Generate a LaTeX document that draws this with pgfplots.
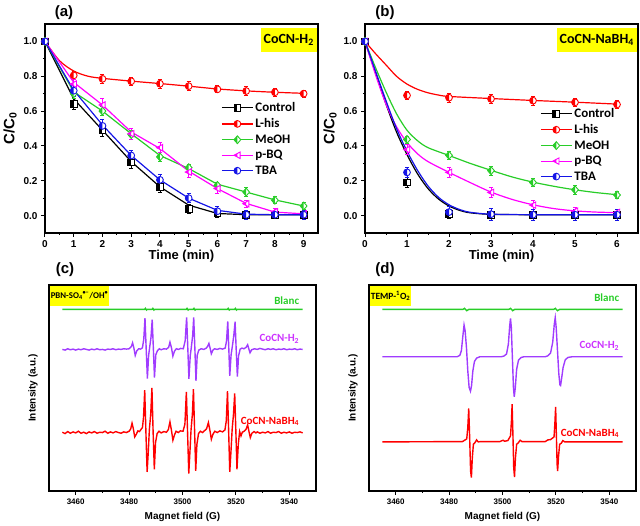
\documentclass[border=0pt]{standalone}
\usepackage{pgfplots}
\pgfplotsset{compat=1.18}
\usepackage{fontspec}
\setmainfont{Liberation Sans}
\newfontfamily\cali{Carlito}
\definecolor{cgreen}{RGB}{40,205,40}
\definecolor{cmag}{RGB}{255,0,255}
\definecolor{cblue}{RGB}{20,20,230}
\definecolor{cpurp}{RGB}{160,60,255}
\definecolor{cpurpt}{RGB}{204,51,255}
\definecolor{cred}{RGB}{255,0,0}
\definecolor{cyel}{RGB}{255,255,0}
\makeatletter
\pgfdeclareplotmark{hcirc}{%
  \pgfscope\pgfsetfillcolor{white}%
  \pgfpathcircle{\pgfpointorigin}{\pgfplotmarksize}\pgfusepathqfill\endpgfscope
  \pgfpathmoveto{\pgfqpoint{0pt}{\pgfplotmarksize}}%
  \pgfpatharc{90}{270}{\pgfplotmarksize}%
  \pgfpathclose\pgfusepathqfill
  \pgfpathcircle{\pgfpointorigin}{\pgfplotmarksize}\pgfusepathqstroke}
\pgfdeclareplotmark{hsq}{%
  \pgfscope\pgfsetfillcolor{white}%
  \pgfpathrectanglecorners{\pgfqpoint{-\pgfplotmarksize}{-\pgfplotmarksize}}{\pgfqpoint{\pgfplotmarksize}{\pgfplotmarksize}}\pgfusepathqfill\endpgfscope
  \pgfpathrectanglecorners{\pgfqpoint{-\pgfplotmarksize}{-\pgfplotmarksize}}{\pgfqpoint{0pt}{\pgfplotmarksize}}\pgfusepathqfill
  \pgfpathrectanglecorners{\pgfqpoint{-\pgfplotmarksize}{-\pgfplotmarksize}}{\pgfqpoint{\pgfplotmarksize}{\pgfplotmarksize}}\pgfusepathqstroke}
\pgfdeclareplotmark{hdia}{%
  \pgfscope\pgfsetfillcolor{white}%
  \pgfpathmoveto{\pgfqpoint{0pt}{1.15\pgfplotmarksize}}\pgfpathlineto{\pgfqpoint{-\pgfplotmarksize}{0pt}}%
  \pgfpathlineto{\pgfqpoint{0pt}{-1.15\pgfplotmarksize}}\pgfpathlineto{\pgfqpoint{\pgfplotmarksize}{0pt}}\pgfpathclose\pgfusepathqfill\endpgfscope
  \pgfpathmoveto{\pgfqpoint{0pt}{1.15\pgfplotmarksize}}\pgfpathlineto{\pgfqpoint{-\pgfplotmarksize}{0pt}}%
  \pgfpathlineto{\pgfqpoint{0pt}{-1.15\pgfplotmarksize}}\pgfpathclose\pgfusepathqfill
  \pgfpathmoveto{\pgfqpoint{0pt}{1.15\pgfplotmarksize}}\pgfpathlineto{\pgfqpoint{-\pgfplotmarksize}{0pt}}%
  \pgfpathlineto{\pgfqpoint{0pt}{-1.15\pgfplotmarksize}}\pgfpathlineto{\pgfqpoint{\pgfplotmarksize}{0pt}}\pgfpathclose\pgfusepathqstroke}
\pgfdeclareplotmark{htri}{%
  \pgfscope\pgfsetfillcolor{white}%
  \pgfpathmoveto{\pgfqpoint{-\pgfplotmarksize}{0pt}}\pgfpathlineto{\pgfqpoint{0.8\pgfplotmarksize}{0.95\pgfplotmarksize}}%
  \pgfpathlineto{\pgfqpoint{0.8\pgfplotmarksize}{-0.95\pgfplotmarksize}}\pgfpathclose\pgfusepathqfill\endpgfscope
  \pgfpathmoveto{\pgfqpoint{-\pgfplotmarksize}{0pt}}\pgfpathlineto{\pgfqpoint{0pt}{0.53\pgfplotmarksize}}%
  \pgfpathlineto{\pgfqpoint{0pt}{-0.53\pgfplotmarksize}}\pgfpathclose\pgfusepathqfill
  \pgfpathmoveto{\pgfqpoint{-\pgfplotmarksize}{0pt}}\pgfpathlineto{\pgfqpoint{0.8\pgfplotmarksize}{0.95\pgfplotmarksize}}%
  \pgfpathlineto{\pgfqpoint{0.8\pgfplotmarksize}{-0.95\pgfplotmarksize}}\pgfpathclose\pgfusepathqstroke}
\makeatother
\tikzset{slab/.style={anchor=east, font=\cali\bfseries\fontsize{11}{13}\selectfont}}
\pgfplotsset{
  kin/.style={
    scale only axis, width=273pt, height=209pt, clip=false,
    ymin=-0.1, ymax=1.1, ytick={0,0.2,...,1.0}, minor y tick num=1,
    minor x tick num=1, xtick pos=bottom, ytick pos=left,
    tick align=outside, major tick length=4pt, minor tick length=2pt,
    axis line style={line width=1.1pt}, every tick/.style={line width=1pt, black},
    /pgf/number format/assume math mode=true,
    ticklabel style={font=\bfseries\fontsize{10}{12}\selectfont},
    yticklabel style={/pgf/number format/.cd, fixed, fixed zerofill, precision=1},
    xlabel={Time (min)}, ylabel={C/C\textsubscript{0}},
    xlabel style={font=\bfseries\fontsize{13}{15}\selectfont, at={(axis description cs:0.5,-0.112)}, anchor=center},
    ylabel style={font=\bfseries\fontsize{15}{17}\selectfont, at={(axis description cs:-0.128,0.5)}, anchor=center},
    legend style={draw=none, fill=none, font=\cali\bfseries\fontsize{13}{15}\selectfont, row sep=1.5pt, inner sep=0pt},
    legend cell align=left,
    legend image code/.code={\draw[mark repeat=2,mark phase=2,#1] plot coordinates {(0pt,0pt)(15.5pt,0pt)(31pt,0pt)};},
  },
  dat/.style={only marks, mark size=3.4pt, mark options={line width=0.9pt}, forget plot,
    error bars/y dir=both, error bars/y explicit, error bars/error bar style={line width=0.8pt},
    error bars/error mark options={rotate=90, mark size=2pt, line width=0.8pt}},
  fit/.style={no marks, line width=1.2pt, forget plot},
  epr/.style={
    scale only axis, width=267pt, height=206pt, clip=false,
    xmin=3450, xmax=3550, ymin=0, ymax=61.7, ytick=\empty,
    xtick={3460,3480,...,3540}, minor x tick num=1, xtick pos=bottom,
    tick align=outside, major tick length=4pt, minor tick length=2pt,
    axis line style={line width=1.1pt}, every tick/.style={line width=1pt, black},
    /pgf/number format/assume math mode=true,
    xticklabel style={font=\bfseries\fontsize{8}{10}\selectfont, /pgf/number format/set thousands separator={}},
    xlabel={Magnet field (G)}, ylabel={Intensity (a.u.)},
    xlabel style={font=\bfseries\fontsize{10}{12}\selectfont, at={(axis description cs:0.5,-0.125)}, anchor=center},
    ylabel style={font=\bfseries\fontsize{10}{12}\selectfont, at={(axis description cs:-0.06,0.5)}, anchor=center},
  },
  spec/.style={sharp plot, no marks, line width=1.4pt},
}
\begin{document}
\begin{tikzpicture}
\useasboundingbox (0pt,0pt) rectangle (640pt,526pt);
% ---------------- (a)
\begin{axis}[kin, at={(45pt,293pt)}, anchor=south west, xmin=0, xmax=9.5, xtick={0,...,9},
  legend style={at={(0.645,0.635)}, anchor=north west}]
\addplot[fit, black] coordinates {(0,1)(1,0.67)(2,0.49)(3,0.31)(4,0.165)(5,0.06)(6,0.012)(7,0.005)(8,0.005)(9,0.005)};
\addplot[fit, cred, smooth] coordinates {(0,1)(0.5,0.89)(1,0.83)(1.5,0.80)(2,0.788)(3,0.772)(4,0.758)(5,0.743)(6,0.727)(7,0.716)(8,0.708)(9,0.702)};
\addplot[fit, cgreen] coordinates {(0,1)(1,0.71)(2,0.60)(3,0.47)(4,0.345)(5,0.27)(6,0.18)(7,0.135)(8,0.09)(9,0.055)};
\addplot[fit, cmag] coordinates {(0,1)(1,0.765)(2,0.635)(3,0.48)(4,0.385)(5,0.255)(6,0.155)(7,0.07)(8,0.02)(9,0.01)};
\addplot[fit, cblue] coordinates {(0,1)(1,0.72)(2,0.52)(3,0.345)(4,0.205)(5,0.1)(6,0.03)(7,0.008)(8,0.005)(9,0.005)};
\addplot[dat, black, mark=hsq] coordinates {(0,1)+-(0,0.02) (1,0.64)+-(0,0.03) (2,0.49)+-(0,0.035) (3,0.305)+-(0,0.035) (4,0.165)+-(0,0.03) (5,0.04)+-(0,0.025) (6,0.012)+-(0,0.02) (7,0.005)+-(0,0.02) (8,0.005)+-(0,0.02) (9,0.005)+-(0,0.02)};
\addplot[dat, cred, mark=hcirc] coordinates {(0,1)+-(0,0.02) (1,0.805)+-(0,0.025) (2,0.785)+-(0,0.025) (3,0.771)+-(0,0.025) (4,0.757)+-(0,0.025) (5,0.743)+-(0,0.025) (6,0.725)+-(0,0.02) (7,0.715)+-(0,0.025) (8,0.708)+-(0,0.025) (9,0.70)+-(0,0.02)};
\addplot[dat, cgreen, mark=hdia] coordinates {(0,1)+-(0,0.02) (1,0.70)+-(0,0.025) (2,0.60)+-(0,0.025) (3,0.465)+-(0,0.025) (4,0.337)+-(0,0.025) (5,0.275)+-(0,0.02) (6,0.173)+-(0,0.02) (7,0.135)+-(0,0.025) (8,0.088)+-(0,0.02) (9,0.055)+-(0,0.02)};
\addplot[dat, cmag, mark=htri] coordinates {(0,1)+-(0,0.02) (1,0.755)+-(0,0.025) (2,0.635)+-(0,0.035) (3,0.47)+-(0,0.03) (4,0.39)+-(0,0.03) (5,0.25)+-(0,0.03) (6,0.155)+-(0,0.025) (7,0.068)+-(0,0.02) (8,0.022)+-(0,0.02) (9,0.01)+-(0,0.02)};
\addplot[dat, cblue, mark=hcirc] coordinates {(0,1)+-(0,0.02) (1,0.717)+-(0,0.03) (2,0.515)+-(0,0.035) (3,0.345)+-(0,0.03) (4,0.205)+-(0,0.03) (5,0.10)+-(0,0.025) (6,0.025)+-(0,0.025) (7,0.005)+-(0,0.025) (8,0.005)+-(0,0.02) (9,0.005)+-(0,0.025)};
\addlegendimage{black, line width=1.2pt, mark=hsq, mark size=3.4pt, mark options={line width=0.9pt}}\addlegendentry{Control}
\addlegendimage{cred, line width=1.2pt, mark=hcirc, mark size=3.4pt, mark options={line width=0.9pt}}\addlegendentry{L-his}
\addlegendimage{cgreen, line width=1.2pt, mark=hdia, mark size=3.4pt, mark options={line width=0.9pt}}\addlegendentry{MeOH}
\addlegendimage{cmag, line width=1.2pt, mark=htri, mark size=3.4pt, mark options={line width=0.9pt}}\addlegendentry{p-BQ}
\addlegendimage{cblue, line width=1.2pt, mark=hcirc, mark size=3.4pt, mark options={line width=0.9pt}}\addlegendentry{TBA}
\node[anchor=north east, fill=cyel, inner xsep=3pt, minimum height=24pt, font=\cali\bfseries\fontsize{14}{16}\selectfont] at ([xshift=-1pt,yshift=-4pt]rel axis cs:1,1) {CoCN-H\textsubscript{2}};
\end{axis}
\node[font=\bfseries\fontsize{15}{17}\selectfont] at (64pt,513pt) {(a)};
% ---------------- (b)
\begin{axis}[kin, at={(365pt,293pt)}, anchor=south west, xmin=0, xmax=6.5, xtick={0,...,6},
  legend style={at={(0.641,0.607)}, anchor=north west}]
\addplot[fit, black, smooth] coordinates {(0,1)(0.25,0.82)(0.5,0.64)(0.75,0.48)(1,0.35)(1.25,0.24)(1.5,0.155)(1.75,0.095)(2,0.055)(2.25,0.03)(2.5,0.016)(3,0.007)(4,0.005)(5,0.005)(6,0.005)};
\addplot[fit, cred, smooth] coordinates {(0,1)(0.25,0.93)(0.5,0.865)(0.75,0.80)(1,0.755)(1.25,0.725)(1.5,0.705)(1.75,0.692)(2,0.684)(3,0.672)(4,0.661)(5,0.651)(6,0.64)};
\addplot[fit, cgreen, smooth] coordinates {(0,1)(0.25,0.85)(0.5,0.71)(0.75,0.585)(1,0.49)(1.25,0.43)(1.5,0.39)(2,0.345)(2.5,0.30)(3,0.26)(3.5,0.222)(4,0.192)(4.5,0.168)(5,0.148)(5.5,0.132)(6,0.12)};
\addplot[fit, cmag, smooth] coordinates {(0,1)(0.25,0.81)(0.5,0.64)(0.75,0.51)(1,0.42)(1.25,0.355)(1.5,0.31)(2,0.248)(2.5,0.19)(3,0.135)(3.5,0.093)(4,0.062)(4.5,0.04)(5,0.027)(5.5,0.02)(6,0.017)};
\addplot[fit, cblue, smooth] coordinates {(0,1)(0.25,0.83)(0.5,0.66)(0.75,0.50)(1,0.37)(1.25,0.26)(1.5,0.17)(1.75,0.105)(2,0.062)(2.25,0.035)(2.5,0.019)(3,0.008)(4,0.005)(5,0.005)(6,0.005)};
\addplot[dat, black, mark=hsq] coordinates {(0,1)+-(0,0.02) (1,0.19)+-(0,0.03) (2,0.01)+-(0,0.025) (3,0.005)+-(0,0.02) (4,0.005)+-(0,0.02) (5,0.005)+-(0,0.02) (6,0.005)+-(0,0.02)};
\addplot[dat, cred, mark=hcirc] coordinates {(0,1)+-(0,0.02) (1,0.69)+-(0,0.025) (2,0.677)+-(0,0.025) (3,0.67)+-(0,0.025) (4,0.66)+-(0,0.025) (5,0.65)+-(0,0.025) (6,0.638)+-(0,0.025)};
\addplot[dat, cgreen, mark=hdia] coordinates {(0,1)+-(0,0.02) (1,0.437)+-(0,0.02) (2,0.346)+-(0,0.025) (3,0.258)+-(0,0.025) (4,0.19)+-(0,0.025) (5,0.148)+-(0,0.025) (6,0.118)+-(0,0.02)};
\addplot[dat, cmag, mark=htri] coordinates {(0,1)+-(0,0.02) (1,0.379)+-(0,0.03) (2,0.248)+-(0,0.03) (3,0.133)+-(0,0.03) (4,0.06)+-(0,0.025) (5,0.025)+-(0,0.02) (6,0.018)+-(0,0.02)};
\addplot[dat, cblue, mark=hcirc] coordinates {(0,1)+-(0,0.02) (1,0.248)+-(0,0.03) (2,0.02)+-(0,0.03) (3,0.008)+-(0,0.035) (4,0.005)+-(0,0.03) (5,0.005)+-(0,0.03) (6,0.005)+-(0,0.03)};
\addlegendimage{black, line width=1.2pt, mark=hsq, mark size=3.4pt, mark options={line width=0.9pt}}\addlegendentry{Control}
\addlegendimage{cred, line width=1.2pt, mark=hcirc, mark size=3.4pt, mark options={line width=0.9pt}}\addlegendentry{L-his}
\addlegendimage{cgreen, line width=1.2pt, mark=hdia, mark size=3.4pt, mark options={line width=0.9pt}}\addlegendentry{MeOH}
\addlegendimage{cmag, line width=1.2pt, mark=htri, mark size=3.4pt, mark options={line width=0.9pt}}\addlegendentry{p-BQ}
\addlegendimage{cblue, line width=1.2pt, mark=hcirc, mark size=3.4pt, mark options={line width=0.9pt}}\addlegendentry{TBA}
\node[anchor=north east, fill=cyel, inner xsep=3pt, minimum height=24pt, font=\cali\bfseries\fontsize{14}{16}\selectfont] at ([xshift=-1pt,yshift=-4pt]rel axis cs:1,1) {CoCN-NaBH\textsubscript{4}};
\end{axis}
\node[font=\bfseries\fontsize{15}{17}\selectfont] at (385pt,513pt) {(b)};
% ---------------- (c)
\begin{axis}[epr, at={(49pt,35pt)}, anchor=south west]
\addplot[spec, cgreen] coordinates {(3455,54.4)(3485.8,54.4)(3486.1,54.7)(3486.5,54.2)(3486.8,54.4)(3488.6,54.4)(3488.9,54.7)(3489.3,54.2)(3489.6,54.4)(3501.4,54.4)(3501.7,54.7)(3502.1,54.2)(3502.4,54.4)(3504,54.4)(3504.3,54.7)(3504.7,54.2)(3505,54.4)(3516.8,54.4)(3517.1,54.7)(3517.5,54.2)(3517.8,54.4)(3519.5,54.4)(3519.8,54.7)(3520.2,54.2)(3520.5,54.4)(3545,54.4)};
\addplot[spec, cpurp] coordinates {(3455,42.4)(3456,42.2)(3457,42.6)(3458,42.3)(3459,42.5)(3460,42.2)(3461,42.5)(3462,42.3)(3463,42.6)(3464,42.4)(3465,42.2)(3466,42.5)(3467,42.3)(3468,42.6)(3469,42.3)(3470,42.4)(3471,42.2)(3472,42.5)(3473,42.4)(3474,42.6)(3475,42.3)(3476,42.5)(3477,42.4)(3478,42.6)(3479,42.5)(3480,42.6)
(3480.8,43.2)(3481.3,44.4)(3481.8,42.8)(3482.3,40.6)(3482.9,42.0)(3483.6,42.6)(3484.3,42.5)(3485.0,42.9)(3485.5,45.5)(3485.95,51.8)(3486.4,42.5)(3486.85,33.7)(3487.3,40.5)(3487.7,43.0)(3488.2,46)(3488.65,51.3)(3489.1,42.5)(3489.5,34.0)(3490.0,40.8)(3490.6,42.0)(3491.3,42.6)(3492,42.3)(3493,42.6)(3494,42.5)(3494.8,43.0)(3495.3,44.6)(3495.9,42.8)(3496.4,40.4)(3497.0,41.9)(3497.7,42.6)(3498.5,42.4)(3499.3,42.7)(3500.3,42.6)(3501.0,45.0)(3501.55,52.0)(3502.0,42.5)(3502.4,33.6)(3502.9,40.5)(3503.3,43.0)(3503.8,46.5)(3504.2,52.0)(3504.65,42.3)(3505.05,33.0)(3505.5,40.6)(3506.1,42.2)(3507,42.6)(3508,42.4)(3508.9,42.8)(3509.4,43.3)(3509.9,44.2)(3510.4,42.6)(3510.8,41.1)(3511.4,42.2)(3512,42.6)(3513,42.4)(3514,42.7)(3515,42.5)(3516,42.8)(3516.5,45)(3516.95,50.8)(3517.35,42.5)(3517.7,34.5)(3518.2,40.8)(3518.7,43.5)(3519.2,46.5)(3519.7,50.7)(3520.1,42.5)(3520.55,34.3)(3521.0,40.5)(3521.6,42.5)(3522.3,42.8)(3523.0,42.6)(3523.8,43.0)(3524.4,43.8)(3524.9,42.4)(3525.3,41.4)(3525.9,42.3)(3527,42.6)(3528,42.4)(3529,42.7)(3530,42.5)(3531,42.3)(3532,42.6)(3533,42.4)(3534,42.6)(3535,42.3)(3536,42.5)(3537,42.4)(3538,42.6)(3539,42.3)(3540,42.5)(3541,42.4)(3542,42.6)(3543,42.3)(3544,42.5)(3545,42.4)};
\addplot[spec, cred] coordinates {(3455,17.6)(3456,17.2)(3457,17.8)(3458,17.3)(3459,17.7)(3460,17.4)(3461,17.9)(3462,17.3)(3463,17.6)(3464,17.2)(3465,17.7)(3466,17.4)(3467,17.8)(3468,17.3)(3469,17.6)(3470,17.5)(3471,17.9)(3472,17.3)(3473,17.7)(3474,17.4)(3475,17.8)(3476,17.5)(3477,17.3)(3478,17.7)(3479,17.5)(3480,17.9)
(3480.6,18.6)(3481.1,20.3)(3481.6,18.6)(3482.1,16.2)(3482.7,17.0)(3483.3,18.0)(3483.9,17.8)(3484.5,18.5)(3485.0,19.0)(3485.4,22)(3485.85,30.2)(3486.3,17.5)(3486.75,5.7)(3487.2,12)(3487.6,18.5)(3488.1,23)(3488.55,30.9)(3489.0,17.5)(3489.45,6.5)(3489.9,14.5)(3490.5,17.2)(3491.2,17.9)(3492,17.4)(3493,17.8)(3494,17.6)(3494.7,18.4)(3495.3,20.7)(3495.9,18)(3496.4,15.2)(3497.0,16.8)(3497.6,17.9)(3498.4,17.5)(3499.2,18.0)(3500.2,17.9)(3500.9,20)(3501.45,29.7)(3501.9,17.5)(3502.35,5.2)(3502.8,12)(3503.2,18.3)(3503.7,23)(3504.1,30.5)(3504.55,17.5)(3504.95,6.0)(3505.4,14)(3506.0,17.2)(3506.7,17.9)(3507.5,17.5)(3508.3,18.1)(3509.0,18.6)(3509.7,20.5)(3510.3,18)(3510.8,15.5)(3511.4,17.0)(3512.1,17.9)(3513,17.5)(3514,18.0)(3515,17.7)(3515.9,18.3)(3516.4,21)(3516.85,29.9)(3517.3,17.5)(3517.7,5.7)(3518.2,12.5)(3518.6,18.5)(3519.1,23)(3519.55,29.2)(3520.0,17.5)(3520.4,6.5)(3520.9,14)(3521.4,17.8)(3521.9,16.5)(3522.4,17.6)(3523.1,17.9)(3523.8,18.5)(3524.4,19.8)(3524.9,17.8)(3525.4,16.0)(3526.0,17.3)(3526.8,17.8)(3527.5,17.4)(3528,17.7)(3529,17.3)(3530,17.6)(3531,17.4)(3532,17.8)(3533,17.3)(3534,17.6)(3535,17.5)(3536,17.8)(3537,17.3)(3538,17.6)(3539,17.4)(3540,17.7)(3541,17.3)(3542,17.6)(3543,17.5)(3544,17.7)(3545,17.4)};
\node[slab, text=cgreen] at (axis cs:3545,57.0) {Blanc};
\node[slab, text=cpurpt] at (axis cs:3545,45.6) {CoCN-H\textsubscript{2}};
\node[slab, text=cred] at (axis cs:3545,20.8) {CoCN-NaBH\textsubscript{4}};
\node[anchor=north west, fill=cyel, inner xsep=1pt, minimum height=20pt, font=\cali\bfseries\fontsize{8.8}{10}\selectfont] at ([xshift=0.6pt,yshift=-0.6pt]rel axis cs:0,1) {PBN-SO\textsubscript{4}\textsuperscript{•−}/OH\textsuperscript{•}};
\end{axis}
\node[font=\bfseries\fontsize{15}{17}\selectfont] at (65pt,256pt) {(c)};
% ---------------- (d)
\begin{axis}[epr, at={(369pt,35pt)}, anchor=south west]
\addplot[spec, cgreen] coordinates {(3455,54.4)(3485.2,54.4)(3485.8,54.7)(3486.6,54.0)(3487.4,54.4)(3502.4,54.4)(3503,54.7)(3503.8,54.0)(3504.6,54.4)(3519.2,54.4)(3519.8,54.7)(3520.6,54.0)(3521.4,54.4)(3545,54.4)};
\addplot[spec, cpurp] coordinates {(3455,40.2)(3483,40.2)(3484,40.6)(3484.6,42)(3485.1,46)(3485.6,49.7)(3486.0,48)(3486.5,43)(3487,36)(3487.5,31)(3488,29.9)(3488.4,31.5)(3488.9,36)(3489.5,38.8)(3490.3,39.8)(3491.5,40.2)(3499.5,40.2)(3500.5,40.4)(3501.5,41.0)(3502.2,44)(3502.7,49.5)(3503.0,51.7)(3503.3,49)(3503.7,40)(3504.1,31)(3504.4,28.2)(3504.8,31)(3505.3,36.5)(3506,39.2)(3507,40.0)(3508,40.2)(3516,40.2)(3517,40.5)(3518,41.3)(3518.8,44.5)(3519.4,50)(3519.75,51.9)(3520.1,49)(3520.6,42)(3521.1,35)(3521.5,31.8)(3521.75,31.6)(3522.1,33.5)(3522.7,37)(3523.5,39.3)(3524.5,40)(3526,40.2)(3545,40.2)};
\addplot[spec, cred] coordinates {(3455,14.7)(3485,14.8)(3486,15.3)(3486.6,15.6)(3487.0,19)(3487.35,24.7)(3487.7,16)(3488.05,6)(3488.35,4.0)(3488.7,10)(3489.1,14.0)(3489.7,14.5)(3490.3,15.3)(3490.9,14.7)(3492,14.8)(3499,14.8)(3500.2,15.2)(3500.8,14.9)(3502,15.1)(3503.0,16.5)(3503.35,21)(3503.6,26)(3503.9,17)(3504.2,7)(3504.5,4.2)(3504.85,10)(3505.3,14)(3505.9,14.4)(3506.6,15.2)(3507.3,14.8)(3516,14.8)(3517,15.3)(3518,15.4)(3519.3,16.2)(3519.6,20)(3519.9,25.2)(3520.2,16)(3520.45,8)(3520.65,6)(3521,10.5)(3521.4,14)(3522,14.3)(3522.6,15.1)(3523.3,14.7)(3545,14.7)};
\node[slab, text=cgreen] at (axis cs:3545,58.0) {Blanc};
\node[slab, text=cpurpt] at (axis cs:3545,43.5) {CoCN-H\textsubscript{2}};
\node[slab, text=cred] at (axis cs:3545,17.3) {CoCN-NaBH\textsubscript{4}};
\node[anchor=north west, fill=cyel, inner xsep=1pt, minimum height=20pt, font=\cali\bfseries\fontsize{9.5}{11}\selectfont] at ([xshift=0.6pt,yshift=-0.6pt]rel axis cs:0,1) {TEMP-\textsuperscript{1}O\textsubscript{2}};
\end{axis}
\node[font=\bfseries\fontsize{15}{17}\selectfont] at (385pt,256pt) {(d)};
\end{tikzpicture}
\end{document}
